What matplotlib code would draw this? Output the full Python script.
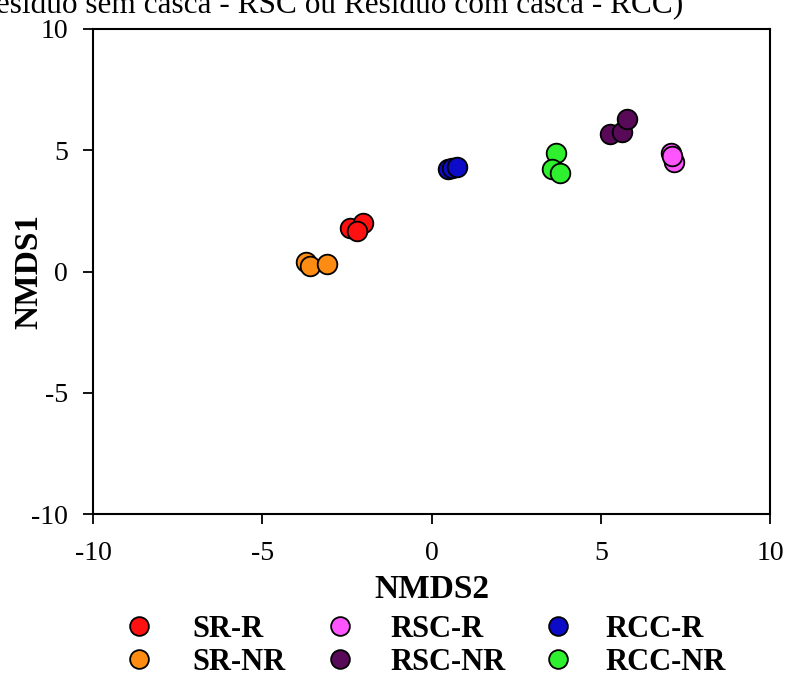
import matplotlib
matplotlib.use("Agg")
import matplotlib.pyplot as plt
from matplotlib.lines import Line2D

plt.rcParams['font.family'] = ['Liberation Serif', 'DejaVu Serif']

# NMDS scores per treatment (NMDS2 on x, NMDS1 on y)
groups = ["SR-R", "SR-NR", "RSC-R", "RSC-NR", "RCC-R", "RCC-NR"]
colors = ["#ff1111", "#ff8c12", "#ff55ff", "#580a58", "#0c0cc8", "#2ef02e"]

sr_r_x = [-2.41, -2.02, -2.20]
sr_r_y = [1.79, 2.00, 1.67]
sr_nr_x = [-3.71, -3.59, -3.09]
sr_nr_y = [0.39, 0.23, 0.31]
rsc_r_x = [7.08, 7.16, 7.10]
rsc_r_y = [4.87, 4.50, 4.75]
rsc_nr_x = [5.27, 5.63, 5.78]
rsc_nr_y = [5.67, 5.76, 6.29]
rcc_r_x = [0.49, 0.62, 0.75]
rcc_r_y = [4.22, 4.27, 4.29]
rcc_nr_x = [3.68, 3.56, 3.80]
rcc_nr_y = [4.89, 4.23, 4.06]

xs = [sr_r_x, sr_nr_x, rsc_r_x, rsc_nr_x, rcc_r_x, rcc_nr_x]
ys = [sr_r_y, sr_nr_y, rsc_r_y, rsc_nr_y, rcc_r_y, rcc_nr_y]

ticks = [-10, -5, 0, 5, 10]

W, H = 786, 678
fig = plt.figure(figsize=(W / 100, H / 100), dpi=100)
ax = fig.add_axes([93 / W, 1 - 514 / H, 677 / W, 485 / H])

for gx, gy, c in zip(xs, ys, colors):
    ax.scatter(gx, gy, s=200, c=c, edgecolors="black", linewidths=1.3, zorder=3)

ax.set_xlim(-10, 10)
ax.set_ylim(-10, 10)
ax.set_xticks(ticks)
ax.set_yticks(ticks)
ax.set_xticklabels([str(t) for t in ticks], fontsize=20)
ax.set_yticklabels([str(t) for t in ticks], fontsize=20)
ax.tick_params(direction="out", length=7.5, width=1.3, top=False, right=False)
ax.tick_params(axis="y", pad=10.5)
ax.tick_params(axis="x", pad=12)
for sp in ax.spines.values():
    sp.set_linewidth(1.5)

ax.set_xlabel("NMDS2", fontsize=24, fontweight="bold")
ax.set_ylabel("NMDS1", fontsize=24, fontweight="bold")
ax.xaxis.set_label_coords(0.5, (514 - 574) / 485)
ax.yaxis.set_label_coords((44 - 93) / 677, 0.5)

# caption line running off the top edge
fig.text(683 / W, 1 - 13 / H, "Resíduo sem casca - RSC ou Resíduo com casca - RCC)",
         fontsize=22.5, ha="right", va="baseline")

# legend: three columns of two entries each
fs = 22
fs_px = fs * 100 / 72
hl = 1.0
marker_x = [139, 340, 558]
text_x = [192, 390, 605]
for col in range(3):
    idx = [2 * col, 2 * col + 1]
    handles = [Line2D([], [], marker="o", linestyle="none", markersize=13.5,
                      markerfacecolor=colors[i], markeredgecolor="black",
                      markeredgewidth=1.3) for i in idx]
    left_px = marker_x[col] - hl * fs_px / 2
    pad = (text_x[col] - left_px) / fs_px - hl
    fig.legend(handles, [groups[i] for i in idx], loc="center left",
               bbox_to_anchor=(left_px / W, 1 - 646 / H),
               frameon=False, prop={"size": fs, "weight": "bold"},
               borderpad=0, borderaxespad=0, handlelength=hl,
               handletextpad=pad, labelspacing=0.12)

fig.savefig("out.png", dpi=100)
